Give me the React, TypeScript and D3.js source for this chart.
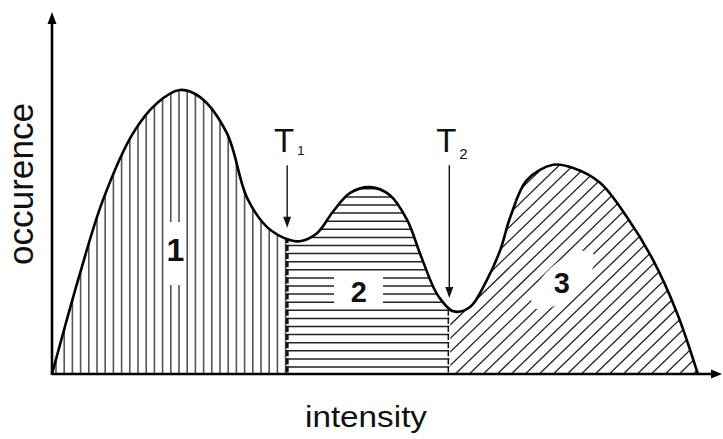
import React from "react";
import * as d3 from "d3";

// intensity (0..100) vs occurrence (0..100)
const intensity = [0, 4.2, 7.6, 12.1, 15.7, 19.1, 22.1, 26.1, 29.1, 32.1, 35.5, 37.0, 39.6, 41.9, 44.5, 47.5, 50.4, 53.0, 54.9, 56.9, 57.9, 59.9, 62.4, 64.9, 66.9, 68.4, 70.9, 74.8, 77.8, 81.8, 85.8, 89.7, 93.3, 96.4];
const occurrence = [0, 28.1, 48.3, 66.9, 75.3, 78.9, 76.9, 66.9, 49.0, 40.8, 37.2, 36.9, 39.2, 45.0, 50.3, 51.9, 49.7, 42.8, 33.6, 24.2, 21.0, 17.4, 18.6, 26.1, 34.4, 43.6, 53.9, 58.1, 57.2, 53.1, 43.6, 31.7, 16.9, 0];

const thresholds = [35.1, 59.3];
const thresholdLabels = ["1", "2"];
const arrowTop = 58;
const arrowEnds = [40.6, 21.1];

const regionLabels = ["1", "2", "3"];
const regionLabelX = [18.4, 45.8, 76.1];
const regionLabelY = [31.4, 20, 22.5];

const W = 723;
const H = 439;

export default function App() {
  const x = d3.scaleLinear().domain([0, 100]).range([52, 722]);
  const y = d3.scaleLinear().domain([0, 100]).range([374, 14]);
  const pts: [number, number][] = intensity.map((v, i) => [v, occurrence[i]]);
  const curve = d3.curveCatmullRom.alpha(0.5);

  const line = d3
    .line<[number, number]>()
    .x((d) => x(d[0]))
    .y((d) => y(d[1]))
    .curve(curve);
  const area = d3
    .area<[number, number]>()
    .x((d) => x(d[0]))
    .y0(y(0))
    .y1((d) => y(d[1]))
    .curve(curve);

  const x0 = x(0);
  const xT1 = x(thresholds[0]);
  const xT2 = x(thresholds[1]);
  const xEnd = x(intensity[intensity.length - 1]);
  const base = y(0);

  // hatch lines
  const vLines: number[] = [];
  for (let px = x0 + 4; px < xT1 - 1; px += 8.2) vLines.push(px);
  const hLines: number[] = [];
  for (let py = base - 7; py > 150; py -= 8.1) hLines.push(py);
  const dLines: number[] = [];
  for (let px = xT2 - 260; px < xEnd + 20; px += 14) dLines.push(px);

  return (
    <svg width={W} height={H} style={{ position: "absolute", left: 0, top: 0, background: "#fff" }}>
      <defs>
        <clipPath id="areaClip">
          <path d={area(pts) || ""} />
        </clipPath>
        <clipPath id="r1">
          <rect x={x0} y={0} width={xT1 - x0} height={H} />
        </clipPath>
        <clipPath id="r2">
          <rect x={xT1 - 2} y={0} width={xT2 - xT1 + 3} height={H} />
        </clipPath>
        <clipPath id="r3">
          <rect x={xT2 + 1} y={0} width={W - xT2} height={H} />
        </clipPath>
      </defs>
      <rect x={0} y={0} width={W} height={H} fill="#fff" />
      <g clipPath="url(#areaClip)">
        <g clipPath="url(#r1)">
          {vLines.map((px, i) => (
            <line key={i} x1={px} x2={px} y1={0} y2={base} stroke="#555" strokeWidth={1.6} />
          ))}
        </g>
        <g clipPath="url(#r2)">
          {hLines.map((py, i) => (
            <g key={i}>
              <line x1={xT1} x2={xT2} y1={py} y2={py} stroke="#222" strokeWidth={1.5} />
              <line x1={xT1} x2={xT1} y1={py - 0.7} y2={py + 5.5} stroke="#111" strokeWidth={3} />
              <line x1={xT2 - 1} x2={xT2 - 1} y1={py - 0.7} y2={py + 5.5} stroke="#111" strokeWidth={1.5} />
            </g>
          ))}
        </g>
        <g clipPath="url(#r3)">
          {dLines.map((px, i) => (
            <line key={i} x1={px} y1={base} x2={px + 300} y2={base - 290} stroke="#222" strokeWidth={1.3} />
          ))}
        </g>
      </g>

      {/* label gaps */}
      <rect x={164} y={222} width={21} height={63} fill="#fff" />
      <rect x={334} y={277} width={49} height={28} fill="#fff" />
      <ellipse cx={563} cy={280} rx={40} ry={17} transform="rotate(-42 563 280)" fill="#fff" />
      {regionLabels.map((t, i) => (
        <text
          key={t}
          x={x(regionLabelX[i])}
          y={y(regionLabelY[i])}
          textAnchor="middle"
          fontFamily="Liberation Sans, Arial, sans-serif"
          fontWeight="bold"
          fontSize={i === 0 ? 32 : 29}
          fill="#111"
        >
          {t}
        </text>
      ))}

      {/* curve */}
      <path d={line(pts) || ""} fill="none" stroke="#000" strokeWidth={2.6} />

      {/* axes */}
      <line x1={x0} x2={716} y1={base} y2={base} stroke="#000" strokeWidth={2.6} />
      <path d={`M722,${base} L711,${base - 4.5} L711,${base + 4.5} Z`} fill="#000" />
      <line x1={x0} x2={x0} y1={base + 1} y2={20} stroke="#000" strokeWidth={2.6} />
      <path d={`M${x0},12 L${x0 - 4.5},24 L${x0 + 4.5},24 Z`} fill="#000" />

      {/* thresholds */}
      {thresholds.map((t, i) => {
        const px = x(t);
        const yEnd = y(arrowEnds[i]);
        return (
          <g key={i}>
            <line x1={px} x2={px} y1={y(arrowTop)} y2={yEnd - 8} stroke="#111" strokeWidth={1.4} />
            <path d={`M${px},${yEnd} L${px - 4},${yEnd - 11} L${px + 4},${yEnd - 11} Z`} fill="#111" />
            <text
              x={px - 3}
              y={152}
              textAnchor="middle"
              fontFamily="Liberation Sans, Arial, sans-serif"
              fontSize={33}
              fill="#111"
            >
              T
            </text>
            <text
              x={px + 10}
              y={i === 0 ? 155 : 159}
              textAnchor="start"
              fontFamily="Liberation Sans, Arial, sans-serif"
              fontSize={i === 0 ? 13 : 15}
              fill="#111"
            >
              {thresholdLabels[i]}
            </text>
          </g>
        );
      })}

      {/* axis titles */}
      <text
        x={366}
        y={427}
        textAnchor="middle"
        fontFamily="Liberation Sans, Arial, sans-serif"
        fontSize={29}
        textLength={122}
        lengthAdjust="spacingAndGlyphs"
        fill="#111"
      >
        intensity
      </text>
      <text
        transform="translate(33,184) rotate(-90)"
        textAnchor="middle"
        fontFamily="Liberation Sans, Arial, sans-serif"
        fontSize={35}
        textLength={162}
        lengthAdjust="spacingAndGlyphs"
        fill="#111"
      >
        occurence
      </text>
    </svg>
  );
}
